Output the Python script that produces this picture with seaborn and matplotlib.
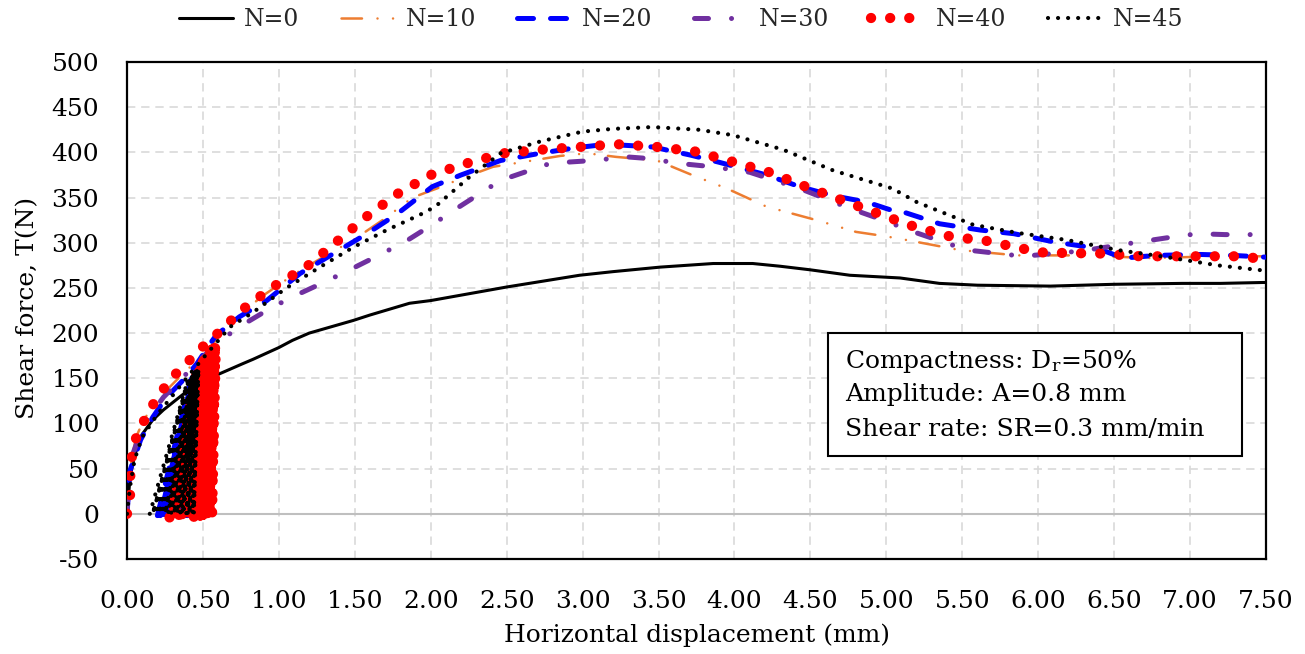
import matplotlib
matplotlib.use("Agg")
import matplotlib.pyplot as plt
from matplotlib.patches import Rectangle
import seaborn as sns

# ---------------- data ----------------
labels = ["N=0", "N=10", "N=20", "N=30", "N=40", "N=45"]

n0_x = [0, 0.02, 0.05, 0.1, 0.17, 0.24, 0.39, 0.5, 0.61, 0.76, 0.83, 1.0, 1.09, 1.2, 1.49, 1.6,
        1.86, 2.0, 2.3, 2.5, 2.98, 3.2, 3.51, 3.86, 4.12, 4.3, 4.5, 4.76, 5.09, 5.35, 5.6, 6.08,
        6.5, 6.95, 7.2, 7.48, 7.5]
n0_y = [0, 40, 65, 88, 104, 115, 135, 145, 155, 166, 171, 184, 192, 200, 214, 220,
        233, 236, 245, 251, 264, 268, 273, 277, 277, 274, 270, 264, 261, 255, 253, 252,
        254, 255, 255, 256, 256]

n10_x = [0, 0.01, 0.03, 0.06, 0.1, 0.16, 0.25, 0.35, 0.45, 0.55, 0.7, 0.9, 1.1, 1.3, 1.49, 1.7,
         1.88, 2.04, 2.2, 2.41, 2.67, 2.85, 3.03, 3.22, 3.49, 3.72, 3.95, 4.21, 4.54, 4.8, 4.96,
         5.07, 5.48, 5.86, 6.29, 6.74, 7.18, 7.5]
n10_y = [0, 30, 60, 85, 100, 118, 135, 152, 168, 185, 215, 242, 265, 285, 303, 327,
         350, 360, 371, 384, 391, 396, 399, 395, 391, 375, 360, 340, 325, 312, 308,
         305, 292, 286, 286, 283, 285, 285]

n20_x = [0, 0.02, 0.09, 0.17, 0.26, 0.37, 0.46, 0.55, 0.59, 0.74, 0.92, 1.14, 1.36, 1.58, 1.78,
         2.01, 2.2, 2.46, 2.72, 2.95, 3.16, 3.46, 3.71, 3.9, 4.21, 4.43, 4.65, 4.87, 5.07, 5.13,
         5.35, 5.62, 5.84, 6.1, 6.34, 6.45, 6.56, 6.78, 7.07, 7.28, 7.5]
n20_y = [0, 48, 82, 107, 129, 148, 166, 189, 198, 218, 236, 266, 288, 310, 332,
         362, 375, 391, 399, 405, 409, 406, 397, 389, 375, 362, 352, 345, 334, 333,
         321, 314, 310, 301, 295, 290, 283, 286, 287, 286, 284]
n20_cyc_x = [0.20, 0.42, 0.22, 0.43, 0.24, 0.43, 0.26, 0.44, 0.28, 0.44, 0.30, 0.45,
             0.32, 0.45, 0.34, 0.46, 0.36, 0.46, 0.38, 0.46, 0.40, 0.47, 0.42, 0.47]
n20_cyc_y = [-2, 148, -2, 150, -2, 151, -2, 152, -2, 153, -2, 154,
             -2, 155, -2, 155, -2, 156, -2, 157, -2, 157, -2, 158]

n30_x = [0, 0.01, 0.04, 0.1, 0.17, 0.24, 0.35, 0.45, 0.55, 0.65, 0.76, 0.96, 1.14, 1.32, 1.49,
         1.68, 1.84, 2.01, 2.19, 2.46, 2.79, 3.07, 3.29, 3.45, 3.62, 3.86, 4.1, 4.43, 4.76, 4.98,
         5.18, 5.53, 5.9, 6.29, 6.67, 6.87, 7.05, 7.23, 7.5]
n30_y = [0, 35, 67, 95, 113, 129, 148, 165, 182, 196, 209, 229, 244, 258, 272,
         288, 302, 320, 340, 369, 388, 391, 395, 393, 388, 384, 378, 360, 338, 325,
         312, 292, 285, 291, 301, 306, 310, 309, 309]

n40_x = [0, 0.02, 0.02, 0.025, 0.05, 0.1, 0.16, 0.23, 0.31, 0.4, 0.5, 0.6, 0.76, 0.96, 1.18,
         1.38, 1.57, 1.78, 2.0, 2.24, 2.48, 2.73, 2.98, 3.23, 3.49, 3.74, 3.98, 4.23, 4.47,
         4.71, 4.95, 5.18, 5.42, 5.66, 5.91, 6.04, 6.42, 6.67, 7.3, 7.5]
n40_y = [0, 15, 35, 56, 80, 99, 118, 136, 153, 168, 185, 200, 226, 251, 273,
         301, 328, 354, 375, 388, 399, 403, 406, 409, 406, 401, 390, 378, 362,
         347, 332, 318, 307, 302, 293, 289, 288, 285, 285, 282]
n40_cyc_x = [0.28, 0.46, 0.30, 0.47, 0.32, 0.48, 0.34, 0.49, 0.36, 0.50, 0.38, 0.50,
             0.40, 0.51, 0.42, 0.52, 0.44, 0.52, 0.45, 0.53, 0.46, 0.53, 0.47, 0.54,
             0.48, 0.54, 0.49, 0.55, 0.50, 0.55, 0.51, 0.56, 0.52, 0.57, 0.53, 0.57,
             0.54, 0.58, 0.47, 0.50, 0.48, 0.51, 0.50, 0.53, 0.52, 0.55, 0.54, 0.57,
             0.55, 0.58, 0.56, 0.585]
n40_cyc_y = [-4, 158, -4, 160, -4, 162, -4, 164, -4, 166, -4, 168,
             -4, 170, -4, 172, -4, 173, -4, 175, -4, 176, -4, 177,
             -4, 178, -4, 179, -3, 180, -3, 182, -3, 183, -3, 184,
             -2, 186, -3, 174, -3, 177, -3, 179, -3, 181, -3, 183,
             -2, 184, -2, 186]

n45_x = [0, 0.02, 0.05, 0.1, 0.2, 0.32, 0.41, 0.53, 0.68, 0.83, 1.05, 1.27, 1.49, 1.71, 1.93,
         2.03, 2.25, 2.46, 2.72, 3.0, 3.2, 3.46, 3.77, 3.99, 4.32, 4.65, 5.04, 5.2, 5.57, 5.86,
         6.19, 6.52, 6.85, 7.18, 7.5]
n45_y = [0, 30, 60, 85, 110, 135, 154, 178, 207, 223, 250, 273, 295, 314, 331,
         340, 372, 399, 412, 423, 426, 428, 425, 419, 403, 380, 360, 345, 320, 311,
         303, 292, 284, 275, 269]
n45_cyc_x = [0.15, 0.40, 0.17, 0.41, 0.19, 0.42, 0.21, 0.42, 0.23, 0.43, 0.25, 0.43,
             0.27, 0.44, 0.29, 0.44, 0.31, 0.45, 0.33, 0.45, 0.35, 0.45, 0.37, 0.46,
             0.39, 0.46, 0.41, 0.46, 0.43, 0.47, 0.44, 0.47, 0.36, 0.44, 0.40, 0.45]
n45_cyc_y = [0, 148, 0, 150, 0, 151, 0, 152, 0, 153, 0, 154,
             0, 155, 0, 155, 0, 156, 0, 157, 0, 157, 0, 158,
             0, 158, 0, 159, 0, 159, 0, 160, 0, 156, 0, 158]

x_ticks = [0.0, 0.5, 1.0, 1.5, 2.0, 2.5, 3.0, 3.5, 4.0, 4.5, 5.0, 5.5, 6.0, 6.5, 7.0, 7.5]
y_ticks = [-50, 0, 50, 100, 150, 200, 250, 300, 350, 400, 450, 500]

# ---------------- style ----------------
sns.set_theme(style="white")
plt.rcParams['font.family'] = ['DejaVu Serif']
plt.rcParams['mathtext.fontset'] = 'dejavuserif'

styles = {
    "N=0": dict(color="black", lw=2.2, ls="-"),
    "N=10": dict(color="#ED7D31", lw=1.8, ls=(0, (8.2, 6.2, 0.01, 6.2, 0.01, 5.4))),
    "N=20": dict(color="#0000FF", lw=3.6, ls=(0, (3.2, 3.4))),
    "N=30": dict(color="#7030A0", lw=3.6, ls=(0, (2.8, 4.6, 0.01, 4.6))),
    "N=40": dict(color="#FF0000", lw=7.4, ls=(0, (0.01, 1.85))),
    "N=45": dict(color="black", lw=3.0, ls=(0, (0.01, 2.4))),
}

series = {
    "N=0": [(n0_x, n0_y)],
    "N=10": [(n10_x, n10_y)],
    "N=20": [(n20_x, n20_y), (n20_cyc_x, n20_cyc_y)],
    "N=30": [(n30_x, n30_y)],
    "N=40": [(n40_x, n40_y), (n40_cyc_x, n40_cyc_y)],
    "N=45": [(n45_x, n45_y), (n45_cyc_x, n45_cyc_y)],
}

W, H = 1305, 654
fig = plt.figure(figsize=(W / 100, H / 100), dpi=100)
L, R, T, B = 127, 1266, 62, 559
ax = fig.add_axes([L / W, 1 - B / H, (R - L) / W, (B - T) / H])

ax.axhline(0, color="#bfbfbf", lw=1.5, zorder=1)

handles = []
for z, lab in enumerate(labels):
    st = styles[lab]
    for i, (xs, ys) in enumerate(series[lab]):
        sns.lineplot(x=xs, y=ys, sort=False, estimator=None, ax=ax,
                     color=st["color"], linewidth=st["lw"], linestyle=st["ls"],
                     dash_capstyle="round", solid_capstyle="round",
                     label=lab if i == 0 else None, legend=False, zorder=3 + z)
    handles.append(ax.lines[-len(series[lab])])

ax.set_xlim(0, 7.5)
ax.set_ylim(-50, 500)
ax.set_xticks(x_ticks)
ax.set_xticklabels([f"{v:.2f}" for v in x_ticks])
ax.set_yticks(y_ticks)
ax.set_yticklabels([str(v) for v in y_ticks])
ax.tick_params(axis="both", length=0, labelsize=18, colors="black")
ax.tick_params(axis="y", pad=20)
ax.tick_params(axis="x", pad=22)

ax.grid(True, color="#d9d9d9", lw=1.2, ls=(0, (5, 3.5)), zorder=0)
ax.set_axisbelow(True)
for sp in ax.spines.values():
    sp.set_visible(True)
    sp.set_color("black")
    sp.set_linewidth(1.6)

ax.set_xlabel("Horizontal displacement (mm)", fontsize=18, color="black", va="center")
ax.xaxis.set_label_coords(0.5, -0.153)
ax.set_ylabel("Shear force, T(N)", fontsize=18, color="black", va="center", ha="center")
ax.yaxis.set_label_coords((28 - L) / (R - L), 0.505)

# annotation box
bx0, bx1, by0, by1 = 828, 1242, 333, 456
ax.add_patch(Rectangle(((bx0 - L) / (R - L), (B - by1) / (B - T)),
                       (bx1 - bx0) / (R - L), (by1 - by0) / (B - T),
                       transform=ax.transAxes, facecolor="white", edgecolor="black",
                       lw=1.5, zorder=20))
box_lines = ["Compactness: D$_\\mathregular{r}$=50%",
             "Amplitude: A=0.8 mm",
             "Shear rate: SR=0.3 mm/min"]
for txt, yc in zip(box_lines, [362, 395, 430]):
    ax.text((845 - L) / (R - L), (B - yc) / (B - T), txt, transform=ax.transAxes,
            fontsize=18, ha="left", va="center", color="black", zorder=21)

fig.legend(handles, labels, loc="center", bbox_to_anchor=(681 / W, 1 - 20 / H), ncol=6,
           frameon=False, fontsize=17, handlelength=2.3, handletextpad=0.45,
           columnspacing=1.75)

fig.savefig("out.png", dpi=100)
